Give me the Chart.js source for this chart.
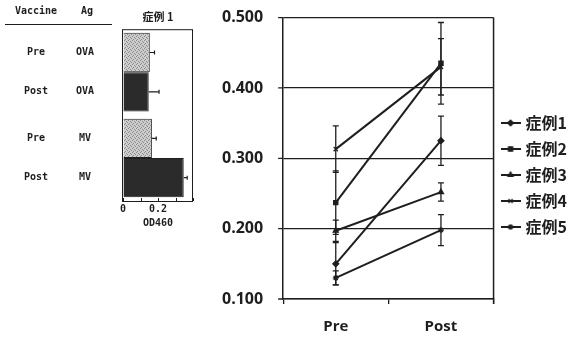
<!DOCTYPE html>
<html>
<head>
<meta charset="utf-8">
<script src="https://cdn.jsdelivr.net/npm/chart.js@4.4.1/dist/chart.umd.min.js"></script>
<style>
  html, body { margin: 0; padding: 0; background: #fff; }
  #wrap { position: relative; width: 577px; height: 338px; }
  #main { position: absolute; left: 0; top: 0; }
  #side { position: absolute; left: 0; top: 0; }
</style>
</head>
<body>
<div id="wrap">
  <canvas id="main" width="577" height="338" style="width:577px;height:338px"></canvas>
  <canvas id="side" width="205" height="229" style="width:205px;height:229px"></canvas>
</div>
<script>
// main chart data
const timepoints = ['Pre', 'Post'];
const caseNames = ['症例1', '症例2', '症例3', '症例4', '症例5'];
const case1 = [0.150, 0.325];
const case2 = [0.237, 0.435];
const case3 = [0.197, 0.252];
const case4 = [0.313, 0.430];
const case5 = [0.130, 0.198];
const case1Err = [0.030, 0.035];
const case2Err = [0.045, 0.058];
const case3Err = [0.015, 0.013];
const case4Err = [0.033, 0.040];
const case5Err = [0.010, 0.022];

// side panel data (症例 1, OD460)
const antigens = ['OVA', 'MV'];
const vaccineRows = ['Pre', 'Post'];
const odPre = [0.153, 0.165];
const odPost = [0.147, 0.347];
const odPreErr = [0.027, 0.025];
const odPostErr = [0.059, 0.020];

const ink = '#1e1e1e';
const markers = ['rectRot', 'rect', 'triangle', 'crossRot', 'star'];

// legend icons: short line with marker
function makeIcon(style) {
    const c = document.createElement('canvas');
    c.width = 20; c.height = 10;
    const g = c.getContext('2d');
    g.strokeStyle = ink; g.fillStyle = ink; g.lineWidth = 2;
    g.beginPath(); g.moveTo(0, 5); g.lineTo(20, 5); g.stroke();
    g.lineWidth = 1.2;
    Chart.helpers.drawPoint(g, { pointStyle: style, radius: 3, borderWidth: 1.2 }, 10, 5);
    return c;
}
const legendIcons = markers.map(makeIcon);

const seriesData = [case1, case2, case3, case4, case5];
const seriesErr = [case1Err, case2Err, case3Err, case4Err, case5Err];

const mainDatasets = caseNames.map((name, i) => ({
    label: name,
    data: seriesData[i],
    errors: seriesErr[i],
    borderColor: ink,
    backgroundColor: ink,
    borderWidth: 2,
    pointStyle: markers[i],
    pointRadius: 3,
    pointBorderWidth: 1.2,
    tension: 0
}));

// error bars, short y ticks and right frame line
const lineErrorBars = {
    id: 'lineErrorBars',
    afterDatasetsDraw(chart) {
        const ctx = chart.ctx;
        const y = chart.scales.y;
        ctx.save();
        ctx.strokeStyle = ink;
        ctx.lineWidth = 1.3;
        chart.data.datasets.forEach((ds, i) => {
            chart.getDatasetMeta(i).data.forEach((pt, j) => {
                const v = ds.data[j], e = ds.errors[j];
                const top = y.getPixelForValue(v + e);
                const bot = y.getPixelForValue(v - e);
                ctx.beginPath();
                ctx.moveTo(pt.x, top); ctx.lineTo(pt.x, bot);
                ctx.moveTo(pt.x - 3, top); ctx.lineTo(pt.x + 3, top);
                ctx.moveTo(pt.x - 3, bot); ctx.lineTo(pt.x + 3, bot);
                ctx.stroke();
            });
        });
        ctx.restore();
    },
    afterDraw(chart) {
        const { ctx, chartArea } = chart;
        const y = chart.scales.y;
        ctx.save();
        ctx.strokeStyle = ink;
        ctx.lineWidth = 1.3;
        ctx.beginPath();
        y.ticks.forEach(t => {
            const py = y.getPixelForValue(t.value);
            ctx.moveTo(chartArea.left - 5, py); ctx.lineTo(chartArea.left, py);
        });
        ctx.stroke();
        ctx.lineWidth = 1.5;
        ctx.beginPath();
        ctx.moveTo(chartArea.right, chartArea.top);
        ctx.lineTo(chartArea.right, chartArea.bottom + 5);
        ctx.stroke();
        ctx.restore();
    }
};

const tickFont = { family: '"Open Sans", sans-serif', weight: 'bold', size: 16 };

new Chart(document.getElementById('main').getContext('2d'), {
    type: 'line',
    data: { labels: timepoints, datasets: mainDatasets },
    options: {
        responsive: false,
        animation: false,
        layout: { padding: { left: 214, top: 2, right: 0, bottom: -12 } },
        scales: {
            x: {
                offset: true,
                grid: { display: true, drawOnChartArea: false, drawTicks: true, tickLength: 5, color: ink, lineWidth: 1.3, offset: true },
                border: { display: true, color: ink, width: 1.5 },
                ticks: { font: { ...tickFont, size: 15 }, color: ink, padding: 14 }
            },
            y: {
                min: 0.1,
                max: 0.5,
                ticks: { stepSize: 0.1, font: tickFont, color: ink, padding: 8, callback: v => v.toFixed(3) },
                grid: { color: ink, lineWidth: 1.3, tickLength: 12, tickColor: 'rgba(0,0,0,0)' },
                border: { display: true, color: ink, width: 1.5 }
            }
        },
        plugins: {
            legend: {
                position: 'right',
                align: 'start',
                title: { display: true, text: ' ', font: { size: 10 }, padding: { top: 91, bottom: 0 } },
                labels: {
                    usePointStyle: true,
                    pointStyleWidth: 14,
                    padding: 10,
                    color: ink,
                    font: { family: '"Noto Sans CJK JP", sans-serif', weight: 'bold', size: 16 },
                    generateLabels(chart) {
                        const items = Chart.defaults.plugins.legend.labels.generateLabels(chart);
                        items.forEach((it, i) => { it.pointStyle = legendIcons[i]; });
                        return items;
                    }
                }
            },
            tooltip: { enabled: false }
        }
    },
    plugins: [lineErrorBars]
});

// stipple pattern for the Pre bars
function stipple() {
    const c = document.createElement('canvas');
    c.width = 4; c.height = 4;
    const g = c.getContext('2d');
    g.fillStyle = '#cdcdcd'; g.fillRect(0, 0, 4, 4);
    g.fillStyle = '#8a8a8a';
    g.fillRect(0, 0, 1, 1); g.fillRect(2, 1, 1, 1); g.fillRect(1, 3, 1, 1); g.fillRect(3, 2, 1, 1);
    return g.createPattern(c, 'repeat');
}

const sideFont = { family: '"DejaVu Sans Mono", monospace', weight: 'bold', size: 10 };

// table labels, frame, inner ticks and error bars of the side panel
const sidePanel = {
    id: 'sidePanel',
    afterDatasetsDraw(chart) {
        const { ctx, chartArea } = chart;
        const x = chart.scales.x;
        ctx.save();
        ctx.strokeStyle = ink;
        ctx.lineWidth = 1.2;
        chart.data.datasets.forEach((ds, i) => {
            chart.getDatasetMeta(i).data.forEach((bar, j) => {
                const e = ds.errors[j];
                const x0 = x.getPixelForValue(ds.data[j]);
                const x1 = x.getPixelForValue(ds.data[j] + e);
                ctx.beginPath();
                ctx.moveTo(x0, bar.y); ctx.lineTo(x1, bar.y);
                ctx.moveTo(x1, bar.y - 2); ctx.lineTo(x1, bar.y + 2);
                ctx.stroke();
            });
        });
        ctx.lineWidth = 1;
        ctx.strokeRect(chartArea.left - 0.5, chartArea.top + 0.5, chartArea.right - chartArea.left, chartArea.bottom - chartArea.top);
        ctx.beginPath();
        x.ticks.forEach(t => {
            const px = Math.round(x.getPixelForValue(t.value)) + 0.5;
            ctx.moveTo(px, chartArea.bottom); ctx.lineTo(px, chartArea.bottom - 3);
        });
        ctx.stroke();

        ctx.fillStyle = ink;
        ctx.font = 'bold 10px "DejaVu Sans Mono", monospace';
        ctx.textAlign = 'center';
        ctx.textBaseline = 'middle';
        ctx.fillText('Vaccine', 36, 11);
        ctx.fillText('Ag', 87, 11);
        ctx.lineWidth = 1.2;
        ctx.beginPath(); ctx.moveTo(5, 24.5); ctx.lineTo(112, 24.5); ctx.stroke();
        chart.data.datasets.forEach((ds, i) => {
            chart.getDatasetMeta(i).data.forEach((bar, j) => {
                ctx.fillText(vaccineRows[i], 36, bar.y);
                ctx.fillText(antigens[j], 85, bar.y);
            });
        });
        ctx.restore();
    }
};

const sideCtx = document.getElementById('side').getContext('2d');
new Chart(sideCtx, {
    type: 'bar',
    data: {
        labels: antigens,
        datasets: [
            { label: 'Pre', data: odPre, errors: odPreErr, backgroundColor: stipple(), borderColor: ink, borderWidth: 1, barPercentage: 1, categoryPercentage: 0.915 },
            { label: 'Post', data: odPost, errors: odPostErr, backgroundColor: '#2b2b2b', borderColor: ink, borderWidth: 1, barPercentage: 1, categoryPercentage: 0.915 }
        ]
    },
    options: {
        indexAxis: 'y',
        responsive: false,
        animation: false,
        layout: { padding: { left: 123, right: 12, top: 1, bottom: 0 } },
        scales: {
            x: {
                min: 0,
                max: 0.4,
                ticks: {
                    stepSize: 0.1,
                    autoSkip: false,
                    maxRotation: 0,
                    minRotation: 0,
                    font: sideFont,
                    color: ink,
                    padding: 2,
                    callback: v => (Math.abs(v) < 1e-9 ? '0' : Math.abs(v - 0.2) < 1e-9 ? '0.2' : '')
                },
                grid: { drawOnChartArea: false, drawTicks: false, tickLength: 0 },
                border: { display: false },
                title: { display: true, text: 'OD460', font: sideFont, color: ink, padding: { top: 0, bottom: 0 } }
            },
            y: { display: false }
        },
        plugins: {
            legend: { display: false },
            tooltip: { enabled: false },
            title: {
                display: true,
                text: '症例 1',
                color: ink,
                font: { family: '"Noto Sans CJK JP", sans-serif', weight: 'bold', size: 11 },
                padding: { top: 9, bottom: 6 }
            }
        }
    },
    plugins: [sidePanel]
});
</script>
</body>
</html>
